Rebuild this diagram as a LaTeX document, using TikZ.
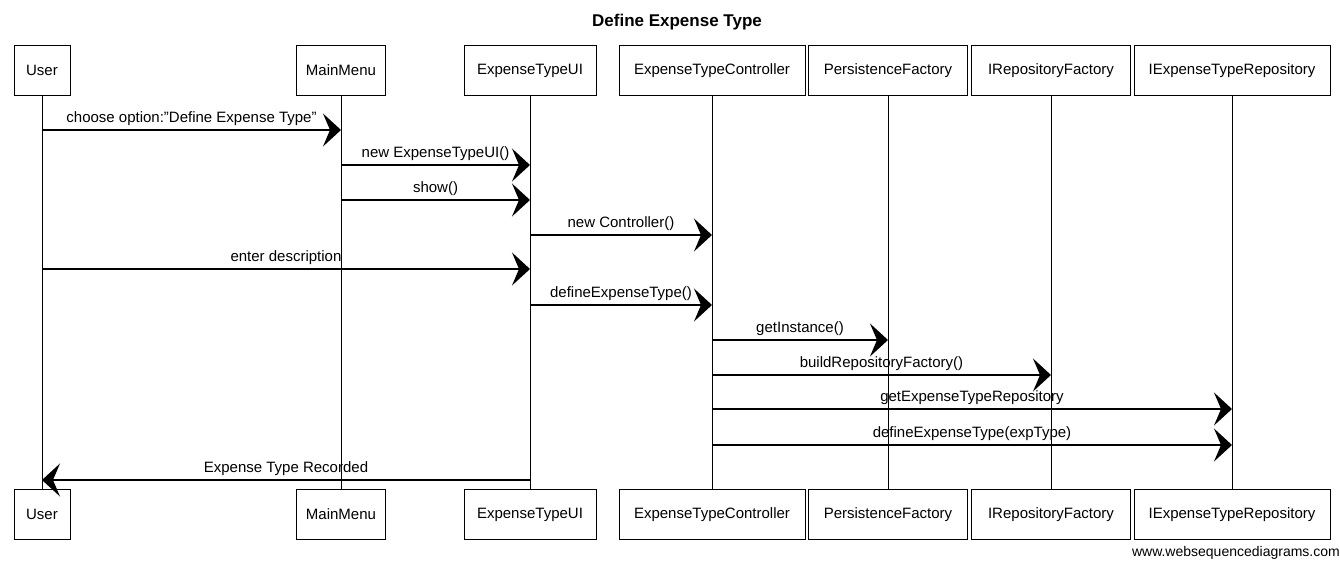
\documentclass[tikz,border=0pt]{standalone}
\usepackage{fontspec}
\setmainfont{Liberation Sans}
\usetikzlibrary{arrows.meta}
\begin{document}
\begin{tikzpicture}[x=1pt,y=-1pt,
  actor/.style={draw,line width=0.9pt,minimum height=50pt,inner sep=0pt,font=\fontsize{15}{18}\selectfont},
  life/.style={line width=0.8pt},
  msg/.style={line width=1.3pt,-{Stealth[length=18pt,width=33pt,inset=7pt]}},
  lbl/.style={above=3pt,inner sep=1pt,font=\fontsize{15}{18}\selectfont}]
\useasboundingbox (0,0) rectangle (1340,561);
\node[font=\bfseries\fontsize{17}{20}\selectfont] (title) at (677,22) {Define Expense Type};
% top actors
\node[actor,minimum width=56pt]  (uT) at (42,70.5)   {User};
\node[actor,minimum width=89pt]  (mT) at (341,70.5)  {MainMenu};
\node[actor,minimum width=132pt] (eT) at (530,70.5)  {ExpenseTypeUI};
\node[actor,minimum width=186pt] (cT) at (712,70.5)  {ExpenseTypeController};
\node[actor,minimum width=159pt] (pT) at (888,70.5)  {PersistenceFactory};
\node[actor,minimum width=159pt] (fT) at (1051,70.5) {IRepositoryFactory};
\node[actor,minimum width=196pt] (rT) at (1232,70.5) {IExpenseTypeRepository};
% bottom actors
\node[actor,minimum width=56pt]  (uB) at (42,514.5)   {User};
\node[actor,minimum width=89pt]  (mB) at (341,514.5)  {MainMenu};
\node[actor,minimum width=132pt] (eB) at (530,514.5)  {ExpenseTypeUI};
\node[actor,minimum width=186pt] (cB) at (712,514.5)  {ExpenseTypeController};
\node[actor,minimum width=159pt] (pB) at (888,514.5)  {PersistenceFactory};
\node[actor,minimum width=159pt] (fB) at (1051,514.5) {IRepositoryFactory};
\node[actor,minimum width=196pt] (rB) at (1232,514.5) {IExpenseTypeRepository};
% lifelines
\foreach \a in {u,m,e,c,p,f,r} \draw[life] (\a T.south) -- (\a B.north);
% messages
\draw[msg] (uT.south |- 0,130) -- node[lbl]{choose option:\symbol{34}Define Expense Type\symbol{34}} (mT.south |- 0,130);
\draw[msg] (mT.south |- 0,165) -- node[lbl]{new ExpenseTypeUI()} (eT.south |- 0,165);
\draw[msg] (mT.south |- 0,200) -- node[lbl]{show()} (eT.south |- 0,200);
\draw[msg] (eT.south |- 0,235) -- node[lbl]{new Controller()} (cT.south |- 0,235);
\draw[msg] (uT.south |- 0,269) -- node[lbl]{enter description} (eT.south |- 0,269);
\draw[msg] (eT.south |- 0,305) -- node[lbl]{defineExpenseType()} (cT.south |- 0,305);
\draw[msg] (cT.south |- 0,340) -- node[lbl]{getInstance()} (pT.south |- 0,340);
\draw[msg] (cT.south |- 0,375) -- node[lbl]{buildRepositoryFactory()} (fT.south |- 0,375);
\draw[msg] (cT.south |- 0,409) -- node[lbl]{getExpenseTypeRepository} (rT.south |- 0,409);
\draw[msg] (cT.south |- 0,445) -- node[lbl]{defineExpenseType(expType)} (rT.south |- 0,445);
\draw[msg] (eT.south |- 0,480) -- node[lbl]{Expense Type Recorded} (uT.south |- 0,480);
% footer
\node[anchor=east,inner sep=0pt,font=\fontsize{14}{16}\selectfont] (footer) at (1340,553) {www.websequencediagrams.com};
\end{tikzpicture}
\end{document}
